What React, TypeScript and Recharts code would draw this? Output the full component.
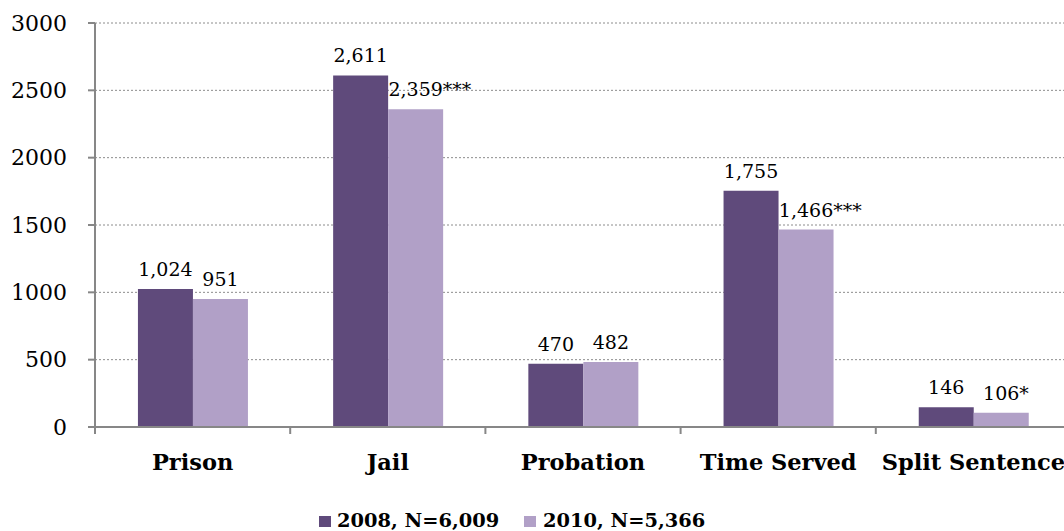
import React from 'react';
import { BarChart, Bar, XAxis, YAxis, CartesianGrid, LabelList, Legend } from 'recharts';

// Sentence type counts by year
const categories = ['Prison', 'Jail', 'Probation', 'Time Served', 'Split Sentence'];
const counts2008 = [1024, 2611, 470, 1755, 146];
const counts2010 = [951, 2359, 482, 1466, 106];
// significance markers printed after the 2010 values
const significance2010 = ['', '***', '', '***', '*'];
const yTicks = [0, 500, 1000, 1500, 2000, 2500, 3000];
const seriesNames = ['2008, N=6,009', '2010, N=5,366'];

const data = categories.map((category, i) => ({
  category,
  y2008: counts2008[i],
  y2010: counts2010[i],
}));

const W = 1072;
const H = 531;
const MARGIN = { top: 23, right: 1, left: 0, bottom: 0 };
const Y_AXIS_W = 95;
const X_AXIS_H = 48;
const LEGEND_H = 56;
const BAND = (W - MARGIN.left - MARGIN.right - Y_AXIS_W) / categories.length;

const FONT = "'DejaVu Serif', serif";
const AXIS = '#878787';
const DARK = '#5F4A7B';
const LIGHT = '#B1A0C7';

const fmt = (v: number) => String(v).replace(/\B(?=(\d{3})+(?!\d))/g, ',');

// approximate advance of a DejaVu Serif string (digits 0.636em, comma 0.318em)
const textWidth = (s: string, size: number) =>
  s.split('').reduce((w, ch) => w + (ch === ',' ? 0.318 : 0.636), 0) * size;

const LABEL_SIZE = 19;

const makeLabel = (marks: string[] | null) => (props: any) => {
  const { x, y, width, value, index } = props;
  const cx = Number(x) + Number(width) / 2;
  const txt = fmt(Number(value));
  const by = Number(y) - 13;
  const mark = marks ? marks[index] : '';
  return (
    <g>
      <text x={cx} y={by} textAnchor="middle" fontFamily={FONT} fontSize={LABEL_SIZE} fill="#000">
        {txt}
      </text>
      {mark ? (
        <text
          x={cx + textWidth(txt, LABEL_SIZE) / 2}
          y={by}
          textAnchor="start"
          fontFamily={FONT}
          fontSize={LABEL_SIZE}
          fill="#000"
        >
          {mark}
        </text>
      ) : null}
    </g>
  );
};

const XTick = (props: any) => {
  const { x, y, payload, index } = props;
  const half = BAND / 2;
  return (
    <g>
      <line x1={x - half} x2={x - half} y1={y} y2={y + 7} stroke={AXIS} strokeWidth={2} />
      {index === categories.length - 1 ? (
        <line x1={x + half} x2={x + half} y1={y} y2={y + 7} stroke={AXIS} strokeWidth={2} />
      ) : null}
      <text x={x} y={y + 43} textAnchor="middle" fontFamily={FONT} fontWeight="bold" fontSize={22.5} fill="#000">
        {payload.value}
      </text>
    </g>
  );
};

const LegendContent = () => {
  const items = [
    { name: seriesNames[0], color: DARK, sx: 319, tx: 337 },
    { name: seriesNames[1], color: LIGHT, sx: 524, tx: 543 },
  ];
  return (
    <svg width={W} height={LEGEND_H} style={{ display: 'block' }}>
      {items.map((it) => (
        <g key={it.name}>
          <rect x={it.sx} y={41} width={12} height={11} fill={it.color} />
          <text x={it.tx} y={52} fontFamily={FONT} fontWeight="bold" fontSize={19.4} fill="#000">
            {it.name}
          </text>
        </g>
      ))}
    </svg>
  );
};

export default function App() {
  return (
    <div style={{ position: 'absolute', left: 0, top: 0, width: W, height: H, background: '#fff', overflow: 'hidden' }}>
      <BarChart
        width={W}
        height={H}
        data={data}
        margin={MARGIN}
        barCategoryGap="22%"
        barGap={0}
      >
        <CartesianGrid vertical={false} stroke="#8c8c8c" strokeDasharray="2 2" />
        <XAxis
          dataKey="category"
          height={X_AXIS_H}
          tickSize={0}
          tickMargin={0}
          tickLine={false}
          axisLine={{ stroke: AXIS, strokeWidth: 2 }}
          tick={<XTick />}
          interval={0}
        />
        <YAxis
          width={Y_AXIS_W}
          domain={[0, 3000]}
          ticks={yTicks}
          interval={0}
          tickSize={7}
          tickMargin={21}
          axisLine={{ stroke: AXIS, strokeWidth: 2 }}
          tickLine={{ stroke: AXIS, strokeWidth: 2 }}
          tick={{ fontFamily: FONT, fontSize: 22, fill: '#000' }}
        />
        <Legend
          verticalAlign="bottom"
          height={LEGEND_H}
          wrapperStyle={{ left: 0, bottom: 0, width: W, height: LEGEND_H }}
          content={<LegendContent />}
        />
        <Bar dataKey="y2008" name={seriesNames[0]} fill={DARK} isAnimationActive={false}>
          <LabelList dataKey="y2008" content={makeLabel(null)} />
        </Bar>
        <Bar dataKey="y2010" name={seriesNames[1]} fill={LIGHT} isAnimationActive={false}>
          <LabelList dataKey="y2010" content={makeLabel(significance2010)} />
        </Bar>
      </BarChart>
    </div>
  );
}
